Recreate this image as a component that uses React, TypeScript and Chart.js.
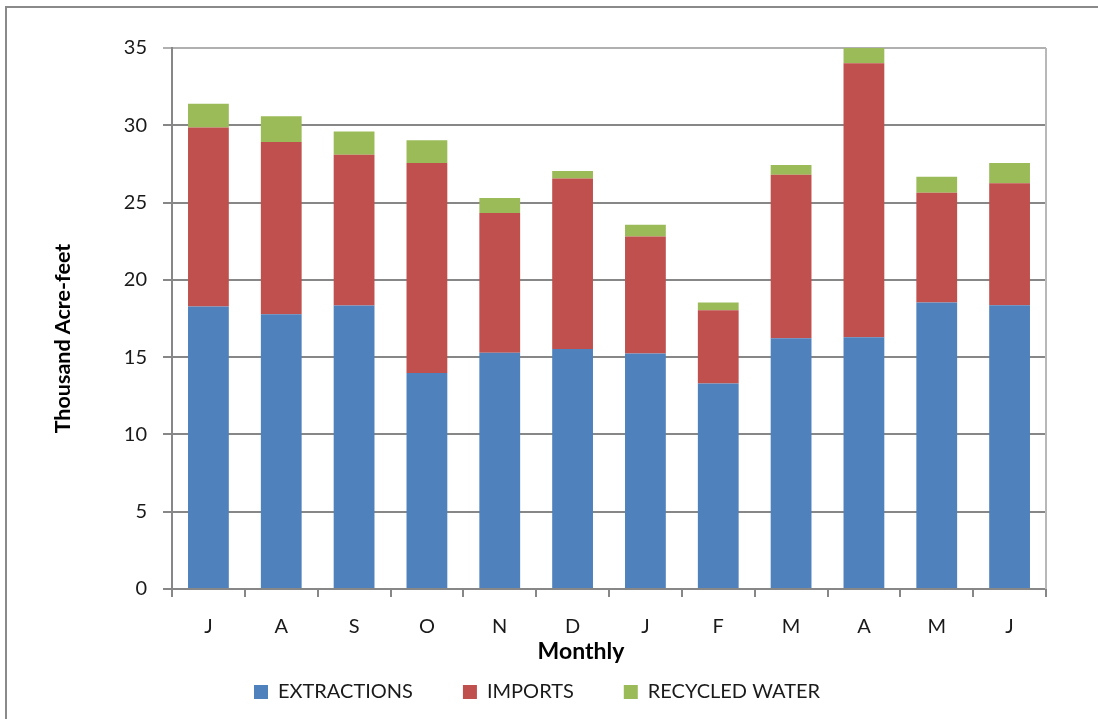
import React, { useEffect, useRef } from "react";
import { Chart, registerables } from "chart.js";

Chart.register(...registerables);

// ---- data ----
const months = ["J", "A", "S", "O", "N", "D", "J", "F", "M", "A", "M", "J"];
const extractions = [18.27, 17.78, 18.34, 13.97, 15.29, 15.53, 15.23, 13.3, 16.22, 16.29, 18.53, 18.36];
const imports = [11.58, 11.14, 9.76, 13.59, 9.03, 11.02, 7.58, 4.74, 10.58, 17.73, 7.11, 7.89];
const recycledWater = [1.54, 1.67, 1.49, 1.47, 0.97, 0.49, 0.75, 0.49, 0.63, 1.07, 1.03, 1.31];
const seriesNames = ["EXTRACTIONS", "IMPORTS", "RECYCLED WATER"];
const seriesColors = ["#4F81BD", "#C0504D", "#9BBB59"];
const yMin = 0;
const yMax = 35;
const yStep = 5;
const yTitle = "Thousand Acre-feet";
const xTitle = "Monthly";

// ---- layout ----
const W = 1098;
const H = 719;
const PLOT_LEFT = 172;
const PLOT_TOP = 48;
const PLOT_RIGHT = 1046;
const PLOT_BOTTOM = 589;
const X_SCALE_H = 76;
const LEGEND_TEXT_Y = 692;
const LEGEND_START_X = 254;
const X_TITLE_SHIFT = -28;
const Y_TITLE_SHIFT = 20;
const FONT = 'Lato, "Open Sans", sans-serif';
const FS = 20;
const TITLE_FS = 23;
const Y_TITLE_FS = 21.5;
const GRID = "#878787";
const LEGEND_PAD = 50;

const layoutFix = {
  id: "layoutFix",
  beforeLayout(chart: any) {
    const lg = chart.legend;
    if (lg && !lg.__patched) {
      const orig = lg.fit.bind(lg);
      lg.fit = function () {
        orig();
        this.height = H - PLOT_BOTTOM - X_SCALE_H;
      };
      lg.__patched = true;
    }
  },
  afterLayout(chart: any) {
    const lg = chart.legend;
    if (lg) {
      const pad = lg.options.labels.padding;
      lg.top = LEGEND_TEXT_Y - pad - FS / 2;
      lg.bottom = H;
      lg.left = LEGEND_START_X - pad;
      lg.right = W;
    }
    const xs = chart.scales.x;
    if (xs && !xs.__patched) {
      const origT = xs.drawTitle.bind(xs);
      xs.drawTitle = function (...args: any[]) {
        const l = this.left;
        const r = this.right;
        this.left = l + X_TITLE_SHIFT;
        this.right = r + X_TITLE_SHIFT;
        origT(...args);
        this.left = l;
        this.right = r;
      };
      xs.__patched = true;
    }
    const ys = chart.scales.y;
    if (ys && !ys.__patched) {
      const origT = ys.drawTitle.bind(ys);
      ys.drawTitle = function (...args: any[]) {
        const t = this.top;
        const b = this.bottom;
        this.top = t + Y_TITLE_SHIFT;
        this.bottom = b + Y_TITLE_SHIFT;
        origT(...args);
        this.top = t;
        this.bottom = b;
      };
      ys.__patched = true;
    }
  },
  beforeDatasetsDraw(chart: any) {
    const { ctx, chartArea } = chart;
    ctx.save();
    ctx.strokeStyle = "#b8b8b8";
    ctx.lineWidth = 2;
    ctx.beginPath();
    ctx.moveTo(chartArea.right, chartArea.top);
    ctx.lineTo(chartArea.right, chartArea.bottom);
    ctx.stroke();
    ctx.restore();
  },
};

export default function App() {
  const ref = useRef<HTMLCanvasElement>(null);
  useEffect(() => {
    document.body.style.overflow = "hidden";
    const canvas = ref.current!;
    const seriesData = [extractions, imports, recycledWater];
    const chart = new Chart(canvas, {
      type: "bar",
      data: {
        labels: months,
        datasets: seriesNames.map((name, i) => ({
          label: name,
          data: seriesData[i],
          backgroundColor: seriesColors[i],
          borderColor: seriesColors[i],
          borderWidth: 0,
          barPercentage: 0.56,
          categoryPercentage: 1,
        })),
      },
      options: {
        responsive: false,
        animation: false,
        layout: { padding: { left: 0, top: PLOT_TOP, right: W - PLOT_RIGHT, bottom: 0 } },
        plugins: {
          tooltip: { enabled: false },
          legend: {
            position: "bottom",
            align: "start",
            labels: {
              boxWidth: 14,
              boxHeight: 14,
              padding: LEGEND_PAD,
              color: "#1a1a1a",
              font: { family: FONT, size: FS },
            },
          },
        },
        scales: {
          x: {
            stacked: true,
            afterFit: (s: any) => {
              s.height = X_SCALE_H;
            },
            grid: {
              drawOnChartArea: false,
              drawTicks: true,
              tickLength: 8,
              color: GRID,
              lineWidth: 2,
            },
            border: { display: true, color: GRID, width: 2 },
            ticks: {
              color: "#1a1a1a",
              padding: 18,
              font: { family: FONT, size: FS },
              maxRotation: 0,
              autoSkip: false,
            },
            title: {
              display: true,
              text: xTitle,
              color: "#000",
              font: { family: FONT, size: TITLE_FS, weight: "bold" },
              padding: { top: 0, bottom: 0 },
            },
          },
          y: {
            stacked: true,
            min: yMin,
            max: yMax,
            afterFit: (s: any) => {
              s.width = PLOT_LEFT;
            },
            grid: {
              drawTicks: true,
              tickLength: 9,
              color: (c: any) => (c.tick && c.tick.value === yMax ? "#b0b0b0" : GRID),
              lineWidth: 2,
            },
            border: { display: true, color: GRID, width: 2 },
            ticks: {
              stepSize: yStep,
              color: "#1a1a1a",
              padding: 16,
              font: { family: FONT, size: FS },
            },
            title: {
              display: true,
              text: yTitle,
              color: "#000",
              font: { family: FONT, size: Y_TITLE_FS, weight: "bold" },
              padding: { top: 50, bottom: 0 },
            },
          },
        },
      },
      plugins: [layoutFix],
    } as any);
    return () => chart.destroy();
  }, []);
  return (
    <div style={{ position: "absolute", left: 0, top: 0, width: W, height: H, overflow: "hidden", background: "#fff" }}>
      <div
        style={{
          position: "absolute",
          left: 5,
          top: 6,
          width: W - 5,
          height: H - 6,
          boxSizing: "border-box",
          borderTop: "2px solid #8a8a8a",
          borderLeft: "2px solid #8a8a8a",
        }}
      />
      <canvas ref={ref} width={W} height={H} style={{ position: "absolute", left: 0, top: 0, width: W, height: H }} />
    </div>
  );
}
